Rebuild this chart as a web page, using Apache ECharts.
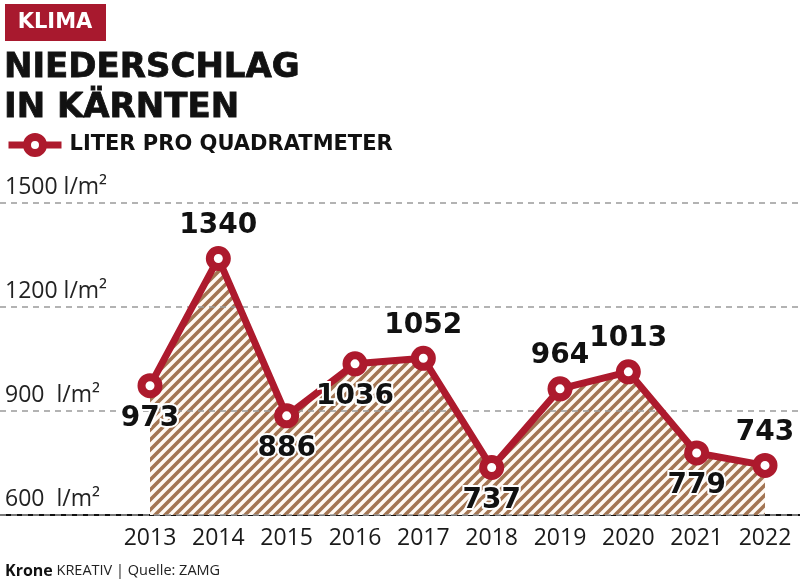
<!DOCTYPE html>
<html>
<head>
<meta charset="utf-8">
<script src="https://cdn.jsdelivr.net/npm/echarts@6/dist/echarts.min.js"></script>
<style>
html,body{margin:0;padding:0;background:#fff;}
#chart{width:800px;height:583px;}
</style>
</head>
<body>
<div id="chart"></div>
<script>
// ---- data ----
const years = ['2013','2014','2015','2016','2017','2018','2019','2020','2021','2022'];
const precipitation = [973, 1340, 886, 1036, 1052, 737, 964, 1013, 779, 743];
const yTicks = [600, 900, 1200, 1500];
const yTickLabels = ['600  l/m²', '900  l/m²', '1200 l/m²', '1500 l/m²'];
const seriesName = 'LITER PRO QUADRATMETER';
const titleText = 'NIEDERSCHLAG\nIN KÄRNTEN';
const kickerText = 'KLIMA';
const sourceBold = 'Krone';
const sourceText = ' KREATIV | Quelle: ZAMG';

// ---- styling ----
const RED = '#ad1a2d';
const labelsBelow = new Set(['2013','2015','2016','2018','2021']);

function hatchPattern() {
  const c = document.createElement('canvas');
  c.width = 10; c.height = 10;
  const g = c.getContext('2d');
  g.fillStyle = '#fffaf4';
  g.fillRect(0, 0, 10, 10);
  g.strokeStyle = '#a37553';
  g.lineWidth = 3.6;
  g.beginPath();
  g.moveTo(-5, 5); g.lineTo(5, -5);
  g.moveTo(0, 10); g.lineTo(10, 0);
  g.moveTo(5, 15); g.lineTo(15, 5);
  g.stroke();
  return c;
}

const chart = echarts.init(document.getElementById('chart'), null, {renderer: 'canvas'});

const labelData = precipitation.map((v, i) => ({
  value: v,
  label: {
    position: 'inside',
    offset: [0, labelsBelow.has(years[i]) ? 33 : -33]
  }
}));

const option = {
  animation: false,
  backgroundColor: '#ffffff',
  title: {
    text: titleText,
    left: 4,
    top: 48,
    padding: 0,
    textStyle: {
      fontFamily: 'DejaVu Sans',
      fontWeight: 'bold',
      fontSize: 34,
      lineHeight: 40,
      color: '#111111',
      textBorderColor: '#111111',
      textBorderWidth: 0.8
    }
  },
  legend: {
    data: [seriesName],
    left: 5,
    top: 133,
    padding: 0,
    itemWidth: 53,
    itemHeight: 20,
    lineStyle: {color: RED, width: 7},
    itemStyle: {color: '#ffffff', borderColor: RED, borderWidth: 8},
    textStyle: {
      fontFamily: 'DejaVu Sans',
      fontWeight: 'bold',
      fontSize: 21,
      color: '#111111',
      padding: [0, 0, 0, 3]
    }
  },
  graphic: [
    {
      type: 'rect',
      shape: {x: 5, y: 4, width: 101, height: 37},
      style: {fill: '#a8192e'}
    },
    {
      type: 'text',
      x: 55, y: 23,
      style: {
        text: kickerText,
        fill: '#ffffff',
        fontFamily: 'DejaVu Sans',
        fontWeight: 'bold',
        fontSize: 21,
        align: 'center',
        verticalAlign: 'middle'
      }
    },
    {
      type: 'text',
      x: 5, y: 571,
      style: {
        text: '{b|' + sourceBold + '}{r|' + sourceText + '}',
        verticalAlign: 'middle',
        rich: {
          b: {fontFamily: 'Open Sans', fontWeight: 'bold', fontSize: 16, fill: '#111111'},
          r: {fontFamily: 'Open Sans', fontSize: 14.5, fill: '#222222'}
        }
      }
    }
  ],
  grid: [
    {left: 0, right: 0, top: 203, bottom: 68},
    {left: 150, right: 35, top: 203, bottom: 68}
  ],
  xAxis: [
    {
      gridIndex: 0, type: 'value', min: 0, max: 1,
      axisLine: {show: true, lineStyle: {color: '#111111', width: 2}},
      axisTick: {show: false}, axisLabel: {show: false}, splitLine: {show: false}
    },
    {
      gridIndex: 1, type: 'category', data: years, boundaryGap: false,
      axisLine: {show: false}, axisTick: {show: false}, splitLine: {show: false},
      axisLabel: {
        interval: 0,
        margin: 12,
        fontFamily: 'Open Sans', fontSize: 23, color: '#1a1a1a'
      }
    }
  ],
  yAxis: [
    {
      gridIndex: 0, type: 'value', min: yTicks[0], max: yTicks[yTicks.length - 1], interval: 300,
      z: 3,
      axisLine: {show: false}, axisTick: {show: false},
      splitLine: {show: true, lineStyle: {color: '#9a9a9a', width: 1.5, type: [6, 5]}},
      axisLabel: {
        inside: true, margin: 5,
        verticalAlign: 'bottom',
        padding: [0, 0, 4, 0],
        fontFamily: 'Open Sans', fontSize: 23, color: '#222222',
        formatter: v => yTickLabels[yTicks.indexOf(v)] || ''
      }
    },
    {
      gridIndex: 1, type: 'value', min: yTicks[0], max: yTicks[yTicks.length - 1], show: false
    }
  ],
  series: [
    {
      name: 'area',
      type: 'line',
      xAxisIndex: 1, yAxisIndex: 1,
      data: precipitation,
      z: 1,
      symbol: 'none',
      lineStyle: {width: 0, opacity: 0},
      areaStyle: {origin: 'start', opacity: 1, color: {image: hatchPattern(), repeat: 'repeat'}},
      silent: true
    },
    {
      name: seriesName,
      type: 'line',
      xAxisIndex: 1, yAxisIndex: 1,
      data: labelData,
      z: 5,
      symbol: 'circle',
      symbolSize: 17,
      lineStyle: {color: RED, width: 7},
      itemStyle: {color: '#ffffff', borderColor: RED, borderWidth: 8},
      label: {
        show: true,
        fontFamily: 'DejaVu Sans',
        fontWeight: 'bold',
        fontSize: 28,
        color: '#111111',
        textBorderColor: '#ffffff',
        textBorderWidth: 4
      }
    }
  ]
};

chart.setOption(option);
</script>
</body>
</html>
